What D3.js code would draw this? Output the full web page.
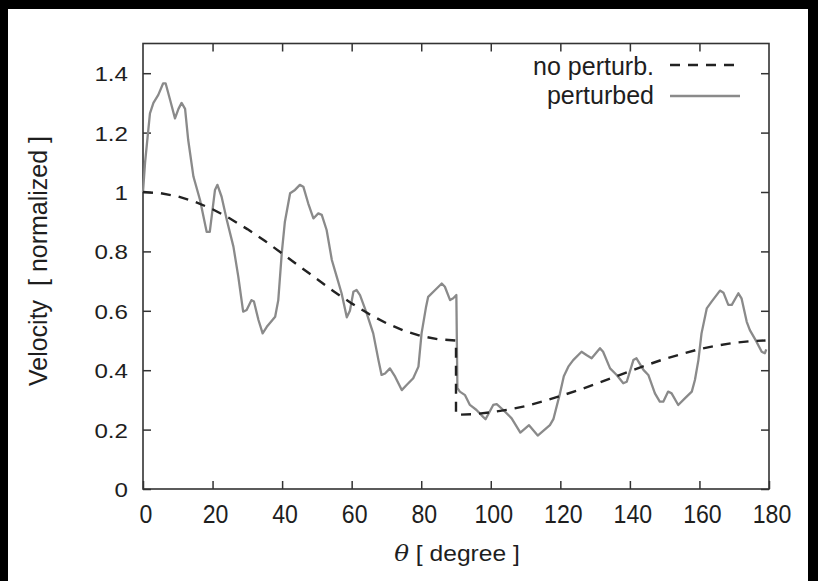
<!DOCTYPE html>
<html>
<head>
<meta charset="utf-8">
<script src="https://cdn.jsdelivr.net/npm/d3@7"></script>
<style>
  html, body { margin: 0; padding: 0; background: #000; }
  svg { display: block; }
  text { font-family: "Liberation Sans", Arial, Helvetica, sans-serif; fill: #1e1e1e; }
</style>
</head>
<body>
<svg id="chart" width="818" height="581"></svg>
<script>
// Axis ticks
const xTicks = [0, 20, 40, 60, 80, 100, 120, 140, 160, 180];
const xTickLabels = ["0", "20", "40", "60", "80", "100", "120", "140", "160", "180"];
const yTicks = [0, 0.2, 0.4, 0.6, 0.8, 1.0, 1.2, 1.4];
const yTickLabels = ["0", "0.2", "0.4", "0.6", "0.8", "1", "1.2", "1.4"];

// Unperturbed velocity profile
const baseTheta = [0, 5, 10, 15, 20, 25, 30, 35, 40, 45, 50, 55, 60, 65, 70, 75, 80, 85, 90,
                   90, 95, 100, 105, 110, 115, 120, 125, 130, 135, 140, 145, 150, 155, 160, 165, 170, 175, 179];
const baseVel   = [1.000, 0.996, 0.985, 0.967, 0.942, 0.911, 0.875, 0.836, 0.793, 0.750, 0.707, 0.664, 0.625, 0.589, 0.558, 0.533, 0.515, 0.504, 0.500,
                   0.250, 0.252, 0.258, 0.267, 0.279, 0.295, 0.313, 0.332, 0.353, 0.375, 0.397, 0.418, 0.438, 0.455, 0.471, 0.483, 0.492, 0.498, 0.500];

// Perturbed velocity profile
const pertTheta = [0, 0.6, 2, 3, 4.4, 5.8, 6.5, 7.8, 9.2, 10.2, 11.1, 12.1, 13, 14.5, 16.4, 18.3, 19.2,
                   20.7, 21.4, 22.6, 24.1, 26, 27.4, 28.8, 29.8, 31.2, 31.9, 33.2, 34.4, 35.6, 38, 38.9, 39.9,
                   40.8, 42.3, 43.7, 45.1, 46.1, 47.5, 49, 50.4, 51.4, 52.8, 54.3, 55.7, 57.1, 58.6, 59.5,
                   60.5, 61.4, 62.4, 64.3, 66.2, 67.7, 68.6, 69.6, 71, 72.5, 74.4, 75.8, 77.7, 79.2,
                   80.1, 81.4, 82, 84, 85.9, 86.8, 88.3, 89.2, 90.1, 90.4, 91.1, 92.6, 94, 95.9, 97.8, 98.5,
                   100.7, 101.7, 103.6, 106, 108.5, 111, 113.5, 115.5, 117, 118, 119.9,
                   121, 122.3, 123.7, 126.1, 127.5, 129, 131.4, 132.3, 134.3, 136.2, 138.1, 139.1,
                   141, 141.9, 143.9, 145.3, 147.2, 148.6, 149.6, 151, 152, 153.9, 155.8, 157.8, 158.7, 159.7,
                   160.6, 162.1, 163.5, 165.9, 166.9, 168.3, 169.3, 171.2, 172.1, 173.6, 174.5, 176.4, 177.9, 178.8, 179.2];
const pertVel   = [1.0, 1.1, 1.265, 1.30, 1.327, 1.366, 1.366, 1.31, 1.248, 1.28, 1.30, 1.28, 1.175, 1.052, 0.973, 0.866, 0.866,
                   1.007, 1.024, 0.984, 0.906, 0.816, 0.715, 0.597, 0.603, 0.636, 0.631, 0.569, 0.524, 0.546, 0.580, 0.636, 0.794,
                   0.900, 0.996, 1.007, 1.024, 1.018, 0.962, 0.911, 0.928, 0.923, 0.872, 0.771, 0.715, 0.659, 0.578, 0.600,
                   0.664, 0.670, 0.653, 0.592, 0.524, 0.434, 0.384, 0.389, 0.406, 0.378, 0.333, 0.350, 0.373, 0.412,
                   0.524, 0.614, 0.647, 0.670, 0.692, 0.681, 0.636, 0.642, 0.653, 0.340, 0.328, 0.316, 0.283, 0.266, 0.243, 0.235,
                   0.283, 0.286, 0.266, 0.238, 0.190, 0.215, 0.180, 0.200, 0.215, 0.235, 0.322,
                   0.380, 0.412, 0.434, 0.462, 0.451, 0.440, 0.474, 0.462, 0.406, 0.384, 0.356, 0.361,
                   0.434, 0.440, 0.401, 0.384, 0.322, 0.294, 0.294, 0.328, 0.322, 0.283, 0.305, 0.328, 0.367, 0.434,
                   0.524, 0.608, 0.631, 0.668, 0.661, 0.620, 0.620, 0.659, 0.642, 0.563, 0.535, 0.496, 0.462, 0.457, 0.470];

const seriesLabels = ["no perturb.", "perturbed"];
const xTitle = "\u03B8";
const xTitleRest = " [ degree ]";
const yTitle = "Velocity  [ normalized ]";

const svg = d3.select("#chart");
const W = 818, H = 581;

// page background with the white sheet
svg.append("rect").attr("width", W).attr("height", H).attr("fill", "#000");
svg.append("rect").attr("x", 8).attr("y", 9).attr("width", 800).attr("height", H - 9).attr("fill", "#fff");

const plot = { left: 143, right: 769, top: 43.5, bottom: 489 };
const x = d3.scaleLinear().domain([0, 180]).range([plot.left, plot.right]);
const y = d3.scaleLinear().domain([0, 1.5]).range([plot.bottom, plot.top]);

const frameColor = "#333";
const tickLen = 8;

// tick marks on all four sides, pointing inward
function styleAxis(g) {
  g.select(".domain").remove();
  g.selectAll(".tick line").attr("stroke", frameColor).attr("stroke-width", 1.5);
  g.selectAll(".tick text").remove();
}
svg.append("g").attr("transform", `translate(0,${plot.bottom})`)
  .call(d3.axisBottom(x).tickValues(xTicks).tickSize(-tickLen)).call(styleAxis);
svg.append("g").attr("transform", `translate(0,${plot.top})`)
  .call(d3.axisTop(x).tickValues(xTicks.slice(1, -1)).tickSize(-tickLen)).call(styleAxis);
svg.append("g").attr("transform", `translate(${plot.left},0)`)
  .call(d3.axisLeft(y).tickValues(yTicks).tickSize(-tickLen)).call(styleAxis);
svg.append("g").attr("transform", `translate(${plot.right},0)`)
  .call(d3.axisRight(y).tickValues(yTicks).tickSize(-tickLen)).call(styleAxis);

// frame
svg.append("rect")
  .attr("x", plot.left).attr("y", plot.top)
  .attr("width", plot.right - plot.left).attr("height", plot.bottom - plot.top)
  .attr("fill", "none").attr("stroke", frameColor).attr("stroke-width", 1.6);

// stretched text helper: scales around its anchor point
function label(txt, px, py, size, anchor, sx, sy, rotate) {
  const g = svg.append("g")
    .attr("transform", `translate(${px},${py})` + (rotate ? ` rotate(${rotate})` : "") + ` scale(${sx},${sy})`);
  return g.append("text").attr("x", 0).attr("y", 0)
    .attr("font-size", size).attr("text-anchor", anchor).text(txt);
}

// y tick labels
yTicks.forEach((v, i) => label(yTickLabels[i], 128, y(v) + 8, 21, "end", 1.15, 1));
// x tick labels
xTicks.forEach((v, i) => label(xTickLabels[i], x(v) + 3, 522.5, 21, "middle", 1.1, 1.25));

// axis titles
const xt = svg.append("g").attr("transform", "translate(457,561) scale(1.12,1)")
  .append("text").attr("font-size", 22).attr("text-anchor", "middle");
xt.append("tspan").attr("font-style", "italic").attr("font-family", "DejaVu Serif, serif").text(xTitle);
xt.append("tspan").attr("xml:space", "preserve").style("white-space", "pre").text(xTitleRest);

label(yTitle, 47, 261, 25, "middle", 1, 1, -90).style("white-space", "pre");

// curves
const lineGen = d3.line().x(d => x(d[0])).y(d => y(d[1]));
const baseData = baseTheta.map((t, i) => [t, baseVel[i]]);
const pertData = pertTheta.map((t, i) => [t, pertVel[i]]);

svg.append("path").datum(pertData)
  .attr("d", lineGen).attr("fill", "none")
  .attr("stroke", "#8a8a8a").attr("stroke-width", 2.3).attr("stroke-linejoin", "round");
svg.append("path").datum(baseData)
  .attr("d", lineGen).attr("fill", "none")
  .attr("stroke", "#222").attr("stroke-width", 2.4).attr("stroke-dasharray", "10,8");

// legend
const legendRows = [
  { y: 74.5, lineY: 65, dash: "10,8", color: "#222", width: 2.4 },
  { y: 104, lineY: 96, dash: null, color: "#8a8a8a", width: 2.3 }
];
legendRows.forEach((r, i) => {
  label(seriesLabels[i], 654, r.y, 25, "end", 1, 1);
  const l = svg.append("line").attr("x1", 670).attr("x2", 740)
    .attr("y1", r.lineY).attr("y2", r.lineY)
    .attr("stroke", r.color).attr("stroke-width", r.width);
  if (r.dash) l.attr("stroke-dasharray", r.dash);
});
</script>
</body>
</html>
